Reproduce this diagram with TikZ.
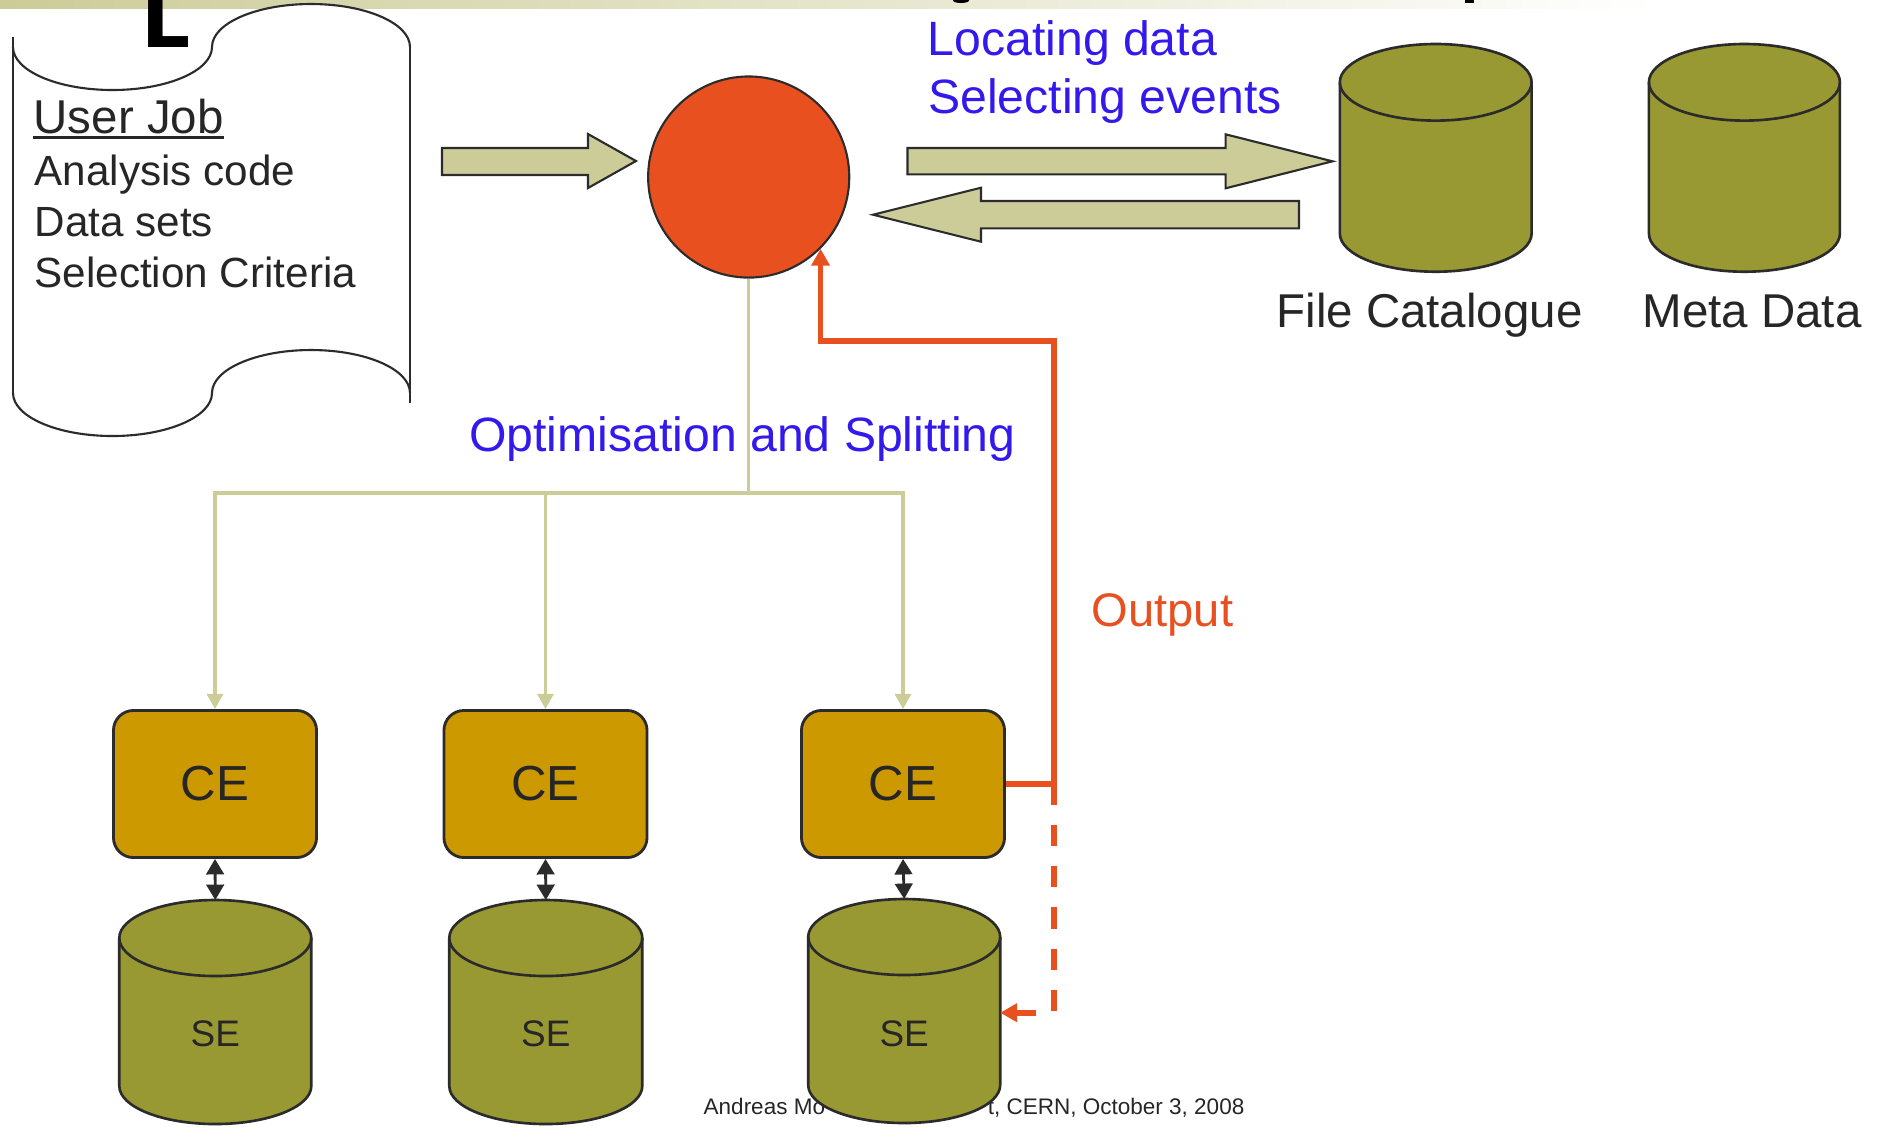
\documentclass[tikz,border=0pt]{standalone}
\usepackage{fontspec}
\setmainfont{Liberation Sans}
\newfontfamily\headfont{DejaVu Sans}
\usetikzlibrary{arrows.meta}

\definecolor{khaki}{RGB}{204,204,153}
\definecolor{inkgray}{RGB}{43,43,43}
\definecolor{textgray}{RGB}{38,38,38}
\definecolor{hubred}{RGB}{232,80,32}
\definecolor{cegold}{RGB}{204,153,0}
\definecolor{drumolive}{RGB}{153,153,51}
\definecolor{notesblue}{RGB}{51,25,235}

\tikzset{
  sheet/.style={draw=inkgray, line width=0.6pt},
  fatarrow/.style={fill=khaki, draw=inkgray, line width=0.6pt},
  hub/.style={circle, fill=hubred, draw=inkgray, line width=0.6pt, minimum size=2.01cm, inner sep=0pt},
  cebox/.style={rectangle, rounded corners=0.2cm, fill=cegold, draw=inkgray, line width=0.8pt,
    minimum width=2.03cm, minimum height=1.47cm, text=textgray, font=\fontsize{14}{16}\selectfont},
  drum/.style={fill=drumolive, draw=inkgray, line width=0.75pt},
  split/.style={draw=khaki, line width=1pt},
  splitarrow/.style={split, -{Triangle[width=4.5pt,length=4.3pt]}},
  outwire/.style={draw=hubred, line width=1.6pt},
  duplex/.style={draw=inkgray, line width=0.8pt, {Triangle[width=5pt,length=4.4pt]}-{Triangle[width=5pt,length=4.4pt]}},
  bodytext/.style={anchor=base west, inner sep=0pt, text=textgray, font=\fontsize{12}{14}\selectfont},
  note/.style={anchor=base west, inner sep=0pt, text=notesblue, font=\fontsize{13.7}{16}\selectfont},
  dblabel/.style={anchor=base, inner sep=0pt, text=textgray, font=\fontsize{13.5}{16}\selectfont},
  setext/.style={inner sep=0pt, text=textgray, font=\fontsize{10.5}{12}\selectfont},
  foot/.style={inner sep=0pt, text=textgray, font=\fontsize{6.4}{7}\selectfont}
}

% cylinder: name, centre x, top ellipse y, bottom ellipse y, x radius, y radius
\newcommand{\drumat}[6]{%
  \filldraw[drum] ({#2-#5},#3) -- ({#2-#5},#4)
    arc[start angle=180, end angle=0, x radius=#5, y radius=#6]
    -- ({#2+#5},#3)
    arc[start angle=0, end angle=-180, x radius=#5, y radius=#6] -- cycle;
  \draw[drum, fill=none] ({#2-#5},#3) arc[start angle=180, end angle=0, x radius=#5, y radius=#6];
  \coordinate (#1top) at (#2,{#3-#6});
  \coordinate (#1side) at ({#2+#5},#3);
}

\begin{document}
\begin{tikzpicture}[x=0.01cm, y=-0.01cm]
\useasboundingbox (0,0) rectangle (1879,1126);

\shade[left color=khaki, middle color=khaki, right color=white] (0,0) rectangle (1660,8.3);
\node[anchor=base west, inner sep=0pt, font={\headfont\bfseries\fontsize{21.9}{24}\selectfont}] (headL) at (140.7,47.7) {L};
\fill (961,0.5) ellipse [x radius=8, y radius=2.5];
\fill (1465,0) rectangle (1474,2.5);

% the job sheet
\fill[white] (13,47) arc[start angle=180, end angle=0, x radius=99.5, y radius=43]
  arc[start angle=180, end angle=360, x radius=99, y radius=43] -- (410,393)
  arc[start angle=0, end angle=-180, x radius=99, y radius=43]
  arc[start angle=0, end angle=180, x radius=99.5, y radius=43] -- cycle;
\draw[sheet] (13,47) arc[start angle=180, end angle=0, x radius=99.5, y radius=43]
  arc[start angle=180, end angle=360, x radius=99, y radius=43];
\draw[sheet] (13,393) arc[start angle=180, end angle=0, x radius=99.5, y radius=43]
  arc[start angle=180, end angle=360, x radius=99, y radius=43];
\draw[sheet] (13,37) -- (13,393);
\draw[sheet] (410,47) -- (410,403);

\node[bodytext, font=\fontsize{13.5}{16}\selectfont] (jobtitle) at (33,133) {User Job};
\draw[textgray, line width=0.95pt] ([yshift=-1.3pt]jobtitle.base west) -- ([yshift=-1.3pt]jobtitle.base east);
\node[bodytext] (jobcode) at (34,185) {Analysis code};
\node[bodytext] (jobdata) at (34,236) {Data sets};
\node[bodytext] (jobcuts) at (34,287) {Selection Criteria};

\filldraw[fatarrow] (442,148) -- (588,148) -- (588,134) -- (636,161) -- (588,188) -- (588,175) -- (442,175) -- cycle;
\filldraw[fatarrow] (907.5,148) -- (1225.6,148) -- (1225.6,134.3) -- (1332.5,161.3) -- (1225.6,188.3) -- (1225.6,174.3) -- (907.5,174.3) -- cycle;
\filldraw[fatarrow] (1299,201) -- (981,201) -- (981,187.7) -- (873,214.7) -- (981,241.7) -- (981,228.3) -- (1299,228.3) -- cycle;

\node[hub] (broker) at (748.7,177) {};

\node[note] (findtxt) at (927,55) {Locating data};
\node[note] (seltxt) at (927.5,113) {Selecting events};

\drumat{fcat}{1435.7}{82.3}{233.4}{95.9}{38.3}
\drumat{meta}{1744.4}{82.3}{233.4}{95.5}{38.3}
\node[dblabel] (fcatname) at (1429.5,327) {File Catalogue};
\node[dblabel] (metaname) at (1752,327) {Meta Data};

\node[cebox] (ce1) at (215,784) {CE};
\node[cebox] (ce2) at (545.5,784) {CE};
\node[cebox] (ce3) at (903,784) {CE};

\coordinate (fork) at (748.7,493);
\draw[split] (broker.south) -- (fork);
\draw[splitarrow] (fork) -| (ce1.north);
\draw[splitarrow] (fork) -| (ce2.north);
\draw[splitarrow] (fork) -| (ce3.north);
\node[note] (splittxt) at (468.5,451) {Optimisation and Splitting};

\node[foot, anchor=base west] (footl) at (703,1114) {Andreas Mo};
\node[foot, anchor=base east] (footr) at (1245,1114) {t, CERN, October 3, 2008};

\drumat{se1}{215.3}{938}{1086}{96}{38}
\drumat{se2}{545.8}{938}{1086}{96.5}{38}
\drumat{se3}{904.2}{937}{1085}{96}{38}
\node[setext] (se1name) at (215.3,1034) {SE};
\node[setext] (se2name) at (545.8,1034) {SE};
\node[setext] (se3name) at (904.2,1034) {SE};

\draw[duplex] (ce1.south) -- (se1top);
\draw[duplex] (ce2.south) -- (se2top);
\draw[duplex] (ce3.south) -- (se3top);

\coordinate (outjoin) at (1054,784);
\coordinate (outtop) at (1054,341);
\coordinate (outlow) at (1054,1012.7);
\draw[outwire, -{Triangle[width=5.1pt,length=4.8pt]}] (ce3.east) -- (outjoin) -- (outtop) -| (broker.-45);
\draw[outwire, dash pattern=on 6pt off 5.7pt, -{Triangle[width=5.1pt,length=4.8pt]}] (outjoin) -- (outlow) -- (outlow -| se3side);
\node[anchor=base west, inner sep=0pt, text=hubred, font=\fontsize{13.4}{16}\selectfont] (outtxt) at (1091,626) {Output};
\end{tikzpicture}
\end{document}
